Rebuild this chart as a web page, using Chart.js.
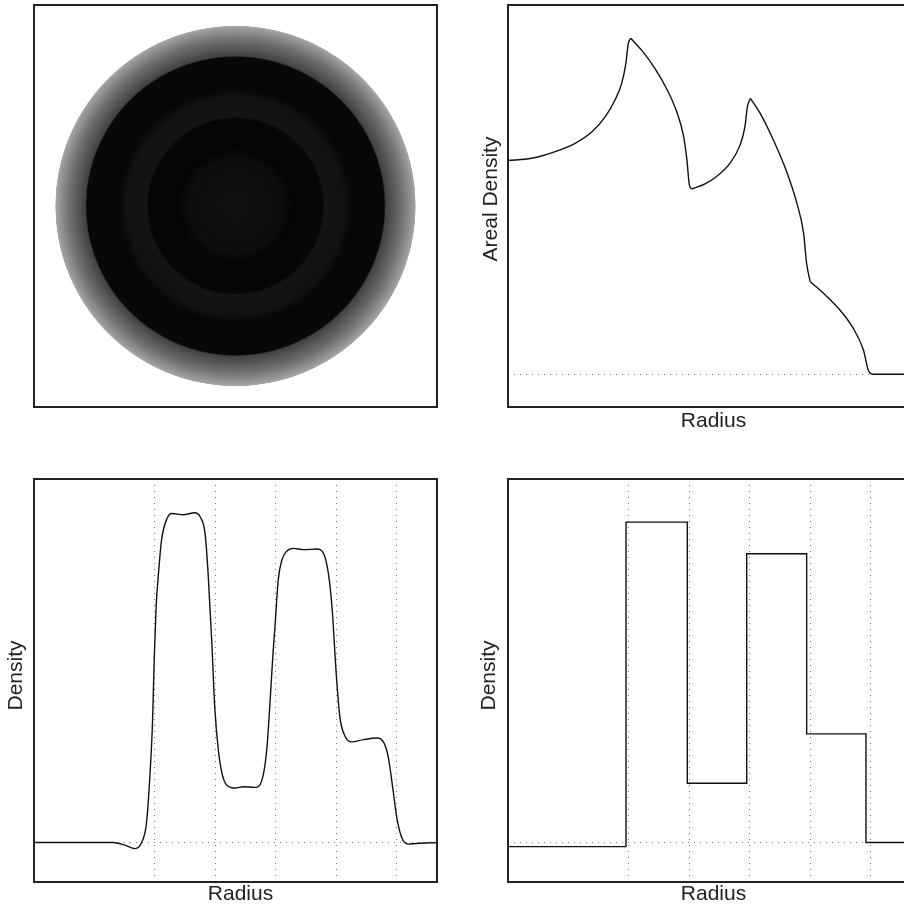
<!DOCTYPE html>
<html>
<head>
<meta charset="utf-8">
<script src="https://cdn.jsdelivr.net/npm/chart.js@4.4.1/dist/chart.umd.min.js"></script>
<style>
  html, body { margin: 0; padding: 0; background: #fff; overflow: hidden; width: 904px; height: 907px; }
  canvas { position: absolute; }
</style>
</head>
<body>
<canvas id="image" width="450" height="420" style="left:0;top:0"></canvas>
<canvas id="areal" width="460" height="440" style="left:460px;top:0"></canvas>
<canvas id="smooth" width="450" height="447" style="left:0;top:460px"></canvas>
<canvas id="steps" width="460" height="447" style="left:460px;top:460px"></canvas>
<script>
// radial image: radius -> grey level
const imgRadius = [0, 1.5, 1.9, 2.88, 2.95, 3.6, 3.85, 4.92, 4.97, 5.5, 5.88, 5.95, 5.97]
const imgShade  = [17, 13, 5, 6, 20, 18, 7, 8, 66, 112, 155, 168, 253]

// areal density profile
const areaRadius  = [0, 0.39, 0.78, 1.11, 1.39, 1.61, 1.77, 1.88, 1.95, 1.99, 2.03, 2.21, 2.43, 2.65, 2.79, 2.90, 2.96, 3.00, 3.04,
                     3.26, 3.45, 3.67, 3.84, 3.92, 3.96, 4.01, 4.17, 4.39, 4.61, 4.78, 4.89, 4.94, 5.00, 5.22, 5.49, 5.71, 5.88, 5.96, 6.02, 6.67]
const areaDensity = [0.668, 0.675, 0.696, 0.722, 0.758, 0.805, 0.857, 0.909, 0.972, 1.034, 1.050, 1.013, 0.956, 0.883, 0.821, 0.748, 0.670, 0.592, 0.579,
                     0.595, 0.618, 0.659, 0.717, 0.774, 0.836, 0.862, 0.816, 0.732, 0.633, 0.534, 0.441, 0.347, 0.289, 0.253, 0.201, 0.144, 0.076, 0.013, 0, 0]
// radii where the areal density has a kink
const cuspRadius = [2.03, 3.04, 4.01, 5.00, 6.02]

// reconstructed density (smooth)
const densRadius = [0, 1.31, 1.50, 1.67, 1.78, 1.86, 1.92, 1.96, 1.99, 2.02, 2.06, 2.11, 2.20, 2.28, 2.47, 2.66, 2.75, 2.83, 2.88, 2.94, 2.99,
                    3.05, 3.11, 3.19, 3.33, 3.46, 3.66, 3.77, 3.85, 3.90, 3.95, 3.99, 4.04, 4.10, 4.18, 4.29, 4.46, 4.68, 4.79, 4.87, 4.93,
                    5.00, 5.06, 5.15, 5.26, 5.45, 5.67, 5.78, 5.86, 5.94, 6.00, 6.08, 6.19, 6.33, 6.67]
const densValue  = [0, 0, -0.008, -0.019, 0, 0.060, 0.216, 0.372, 0.578, 0.734, 0.841, 0.944, 1.011, 1.027, 1.023, 1.029, 1.016, 0.965, 0.841, 0.631, 0.423,
                    0.288, 0.216, 0.179, 0.170, 0.174, 0.172, 0.194, 0.288, 0.423, 0.579, 0.684, 0.819, 0.881, 0.909, 0.918, 0.914, 0.916, 0.902, 0.840, 0.735,
                    0.527, 0.392, 0.330, 0.314, 0.321, 0.326, 0.314, 0.267, 0.163, 0.080, 0.017, -0.005, -0.003, 0]

// true density (shells)
const shellEdge    = [0, 1.952, 2.966, 3.949, 4.941, 5.922, 6.667]
const shellDensity = [-0.013, 1.0, 0.185, 0.901, 0.339, 0, 0]

const gridRadius = [2, 3, 4, 5, 6]
const baseLevel = [0]

Chart.defaults.font.family = '"Liberation Sans", Arial, Helvetica, sans-serif'
Chart.defaults.color = '#222'

const framePlugin = {
    id: 'frame',
    afterDraw(chart) {
        const {ctx, chartArea: a} = chart
        ctx.save()
        ctx.strokeStyle = '#222'
        ctx.lineWidth = 2
        ctx.strokeRect(a.left, a.top, a.right - a.left, a.bottom - a.top)
        ctx.restore()
    }
}

const ringPlugin = {
    id: 'rings',
    beforeDatasetsDraw(chart) {
        const {ctx, scales: {x, y}} = chart
        const cx = x.getPixelForValue(0)
        const cy = y.getPixelForValue(0)
        const maxR = imgRadius[imgRadius.length - 1]
        const R = x.getPixelForValue(maxR) - cx
        const g = ctx.createRadialGradient(cx, cy, 0, cx, cy, R)
        imgRadius.forEach((r, i) => {
            const s = imgShade[i]
            g.addColorStop(r / maxR, `rgb(${s},${s},${s})`)
        })
        ctx.save()
        ctx.fillStyle = g
        ctx.beginPath()
        ctx.arc(cx, cy, R, 0, Math.PI * 2)
        ctx.fill()
        ctx.restore()
    }
}

// axis titles in the original sit a little off the centre of the frame;
// titles are drawn with the grid, before the datasets, so shift only for that part
function nudgeTitles(dx, dy) {
    const shift = (chart, k) => {
        const {x, y} = chart.scales
        x.left += k * dx
        x.right += k * dx
        y.top += k * dy
        y.bottom += k * dy
    }
    return {
        id: 'nudge',
        beforeDraw: chart => shift(chart, 1),
        beforeDatasetsDraw: chart => shift(chart, -1)
    }
}

function toPoints(xs, ys) {
    return xs.map((v, i) => ({x: v, y: ys[i]}))
}

// split a profile at its kinks so each piece can be drawn smooth
function splitAt(xs, ys, cuts) {
    const parts = []
    let cur = []
    xs.forEach((v, i) => {
        cur.push({x: v, y: ys[i]})
        if (cuts.includes(v)) {
            parts.push(cur)
            cur = [{x: v, y: ys[i]}]
        }
    })
    if (cur.length > 1) parts.push(cur)
    return parts
}

function radiusAxis(heightPx, titlePad, showGrid) {
    return {
        type: 'linear', min: 0, max: 6.667,
        ticks: {display: false},
        grid: {display: showGrid, color: '#777', lineWidth: 1, drawTicks: false},
        border: {display: false, dash: [1, 5]},
        title: {display: true, text: 'Radius', font: {size: 21}, padding: {top: 0, bottom: titlePad}},
        afterBuildTicks: s => { s.ticks = gridRadius.map(v => ({value: v})) },
        afterFit: s => { s.height = heightPx }
    }
}

function valueAxis(min, max, widthPx, label, titlePad) {
    return {
        type: 'linear', min: min, max: max,
        ticks: {display: false},
        grid: {color: '#777', lineWidth: 1, drawTicks: false},
        border: {display: false, dash: [1, 5]},
        title: {display: true, text: label, font: {size: 21}, padding: {top: titlePad, bottom: 0}},
        afterBuildTicks: s => { s.ticks = baseLevel.map(v => ({value: v})) },
        afterFit: s => { s.width = widthPx }
    }
}

const common = {
    responsive: false,
    animation: false,
    devicePixelRatio: 1,
    plugins: {legend: {display: false}, tooltip: {enabled: false}}
}

new Chart(document.getElementById('image'), {
    type: 'scatter',
    data: {datasets: []},
    options: {
        ...common,
        layout: {padding: {left: 34, top: 5, right: 13, bottom: 13}},
        scales: {
            x: {display: false, min: -6.667, max: 6.667},
            y: {display: false, min: -6.667, max: 6.667}
        }
    },
    plugins: [ringPlugin, framePlugin]
})

new Chart(document.getElementById('areal'), {
    type: 'line',
    data: {datasets: splitAt(areaRadius, areaDensity, cuspRadius).map(part => ({
        data: part,
        borderColor: '#111', borderWidth: 1.4, pointRadius: 0, cubicInterpolationMode: 'monotone'
    }))},
    options: {
        ...common,
        layout: {padding: {left: 0, top: 5, right: 9, bottom: 0}},
        scales: {
            x: radiusAxis(33, 6.6, false),
            y: valueAxis(-0.1022, 1.1541, 48, 'Areal Density', 18.2)
        }
    },
    plugins: [framePlugin, nudgeTitles(4, -7)]
})

new Chart(document.getElementById('smooth'), {
    type: 'line',
    data: {datasets: [{
        data: toPoints(densRadius, densValue),
        borderColor: '#111', borderWidth: 1.4, pointRadius: 0, cubicInterpolationMode: 'monotone'
    }]},
    options: {
        ...common,
        layout: {padding: {left: 0, top: 19, right: 13, bottom: 0}},
        scales: {
            x: radiusAxis(25, 0.4, true),
            y: valueAxis(-0.1233, 1.1345, 34, 'Density', 3.2)
        }
    },
    plugins: [framePlugin, nudgeTitles(5, -5)]
})

new Chart(document.getElementById('steps'), {
    type: 'line',
    data: {datasets: [{
        data: toPoints(shellEdge, shellDensity),
        borderColor: '#111', borderWidth: 1.4, pointRadius: 0, stepped: 'before'
    }]},
    options: {
        ...common,
        layout: {padding: {left: 0, top: 19, right: 9, bottom: 0}},
        scales: {
            x: radiusAxis(25, 0.4, true),
            y: valueAxis(-0.1233, 1.1345, 48, 'Density', 16.6)
        }
    },
    plugins: [framePlugin, nudgeTitles(4, -5)]
})
</script>
</body>
</html>
